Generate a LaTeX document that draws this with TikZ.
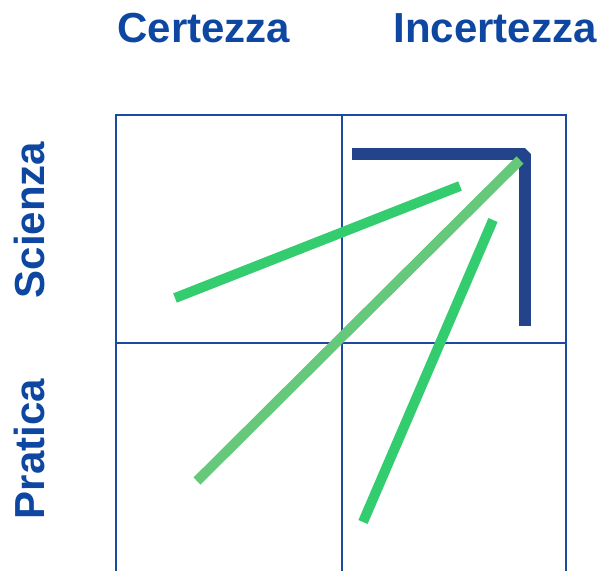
\documentclass[tikz,border=0pt]{standalone}
\usepackage{fontspec}
\setmainfont{Liberation Sans}
\definecolor{titleblue}{HTML}{0D47A1}
\definecolor{gridblue}{HTML}{1A4BA0}
\definecolor{navyL}{HTML}{23448A}
\definecolor{brightgreen}{HTML}{33CC6E}
\definecolor{softgreen}{HTML}{66C87A}
\tikzset{
  heading/.style={text=titleblue, font=\fontsize{42}{50}\selectfont\bfseries, inner sep=0pt, anchor=base},
  gridline/.style={draw=gridblue, line width=2},
  ray/.style={line width=10}
}
\begin{document}
\begin{tikzpicture}[x=1pt,y=-1pt]
\useasboundingbox (0,0) rectangle (597,571);
\node[heading] (cert) at (204,42) {Certezza};
\node[heading] (incert) at (495,42) {Incertezza};
\node[heading, rotate=90] (sci) at (44,220) {Scienza};
\node[heading, rotate=90] (prat) at (44,449) {Pratica};
\draw[gridline] (116,571) -- (116,115) -- (566,115) -- (566,571);
\draw[gridline] (342,115) -- (342,571);
\draw[gridline] (116,343) -- (566,343);
\draw[navyL, line width=12, line join=bevel] (352,154) -- (525,154) -- (525,326);
\draw[ray, brightgreen] (175,298) -- (460,186);
\draw[ray, softgreen] (197,481) -- (520,160);
\draw[ray, brightgreen] (363,522) -- (493,220);
\end{tikzpicture}
\end{document}
